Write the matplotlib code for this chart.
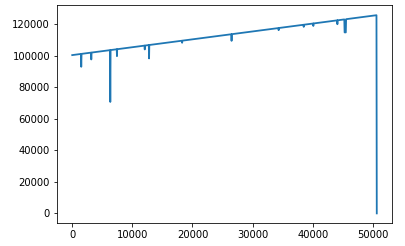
import matplotlib

matplotlib.use("Agg")
import matplotlib.pyplot as plt

# series: a slow linear climb with a few dropouts
x = [0,
     1450, 1500, 1550,
     3120, 3170, 3220,
     6280, 6330, 6380,
     7400, 7440, 7480,
     12020, 12060, 12100,
     12740, 12780, 12820,
     18240, 18280, 18320,
     26460, 26500, 26540,
     34300, 34330, 34360,
     38470, 38500, 38530,
     40070, 40100, 40130,
     44070, 44100, 44130,
     45250, 45300, 45400, 45500, 45550,
     50600, 50650]
y = [100400,
     101130, 93000, 101180,
     101960, 97650, 102010,
     103540, 70700, 103590,
     104100, 99750, 104140,
     106410, 104000, 106450,
     106770, 98300, 106810,
     109520, 108200, 109560,
     113630, 109450, 113670,
     117550, 116200, 117580,
     119640, 118300, 119660,
     120440, 118900, 120460,
     122440, 120000, 122460,
     123030, 114800, 114800, 114800, 123180,
     125700, 0]

fig = plt.figure(figsize=(405 / 72, 246 / 72), dpi=72)
ax = fig.add_axes([57 / 405, (246 - 223.3) / 246, (392 - 57) / 405, (223.3 - 5.3) / 246])
ax.plot(x, y, color="#1f77b4", linewidth=1.8)
fig.savefig("out.png", dpi=72)
